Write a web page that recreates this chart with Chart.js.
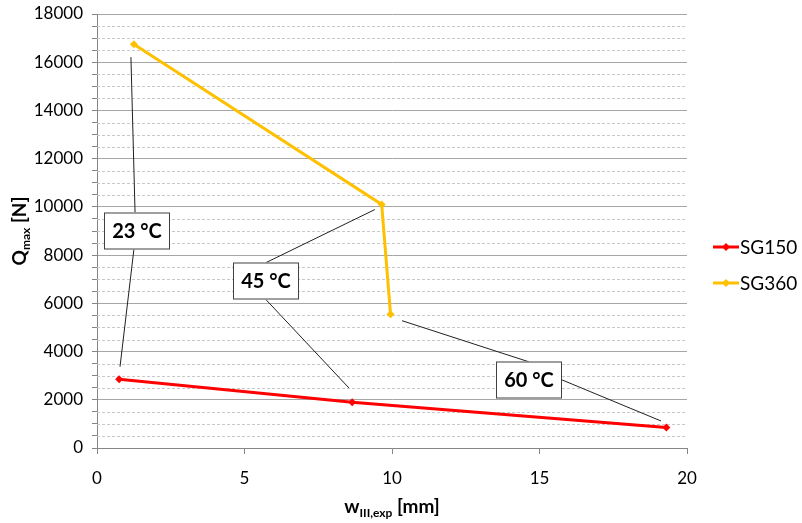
<!DOCTYPE html>
<html>
<head>
<meta charset="utf-8">
<script src="https://cdn.jsdelivr.net/npm/chart.js@4.4.0/dist/chart.umd.min.js"></script>
<style>
  html, body { margin: 0; padding: 0; background: #fff; }
</style>
</head>
<body>
<canvas id="chart" width="802" height="523"></canvas>
<script>
// data
const sg150X = [0.75, 8.65, 19.3];
const sg150Y = [2850, 1900, 850];
const sg360X = [1.25, 9.65, 9.95];
const sg360Y = [16750, 10100, 5550];
const seriesNames = ["SG150", "SG360"];
const seriesColors = ["#ff0000", "#ffc000"];
const xTickValues = [0, 5, 10, 15, 20];
const yMax = 18000, yMajorStep = 2000, yMinorStep = 500;

// temperature callouts (data coords) and their leader lines
const tempLabels = ["23 °C", "45 °C", "60 °C"];
const tempX = [1.34, 5.73, 14.64];
const tempY = [9000, 6920, 2826];
const leaders = [
  [1.29, 9770, 1.15, 16210],
  [1.25, 8230, 0.78, 3370],
  [5.73, 7690, 9.42, 9890],
  [5.73, 6150, 8.54, 2490],
  [14.64, 3574, 10.34, 5280],
  [15.76, 2826, 19.12, 1120],
];

const FONT = "Lato, 'Open Sans', sans-serif";
Chart.defaults.font.family = FONT;
Chart.defaults.color = "#000";

const toPoints = (xs, ys) => xs.map((x, i) => ({ x: x, y: ys[i] }));

const extras = {
  id: "extras",
  beforeDatasetsDraw(chart) {
    // dashed minor gridlines
    const { ctx, chartArea: a, scales: { y } } = chart;
    ctx.save();
    ctx.strokeStyle = "#c8c8c8";
    ctx.lineWidth = 1;
    ctx.setLineDash([3, 2]);
    y.ticks.forEach((t) => {
      if (t.value % yMajorStep === 0) return;
      const py = Math.round(y.getPixelForValue(t.value)) + 0.5;
      ctx.beginPath();
      ctx.moveTo(a.left, py);
      ctx.lineTo(a.right, py);
      ctx.stroke();
    });
    ctx.restore();
  },
  afterDatasetsDraw(chart) {
    const { ctx, scales: { x, y } } = chart;
    ctx.save();
    // leader lines
    ctx.strokeStyle = "#202020";
    ctx.lineWidth = 1;
    leaders.forEach((l) => {
      ctx.beginPath();
      ctx.moveTo(x.getPixelForValue(l[0]), y.getPixelForValue(l[1]));
      ctx.lineTo(x.getPixelForValue(l[2]), y.getPixelForValue(l[3]));
      ctx.stroke();
    });
    // label boxes
    const w = 66, h = 37;
    ctx.font = "bold 20px " + FONT;
    ctx.textAlign = "center";
    ctx.textBaseline = "middle";
    tempLabels.forEach((t, i) => {
      const cx = Math.round(x.getPixelForValue(tempX[i]));
      const cy = Math.round(y.getPixelForValue(tempY[i]));
      ctx.fillStyle = "#fff";
      ctx.fillRect(cx - w / 2, cy - h / 2, w, h);
      ctx.strokeStyle = "#404040";
      ctx.strokeRect(cx - w / 2 + 0.5, cy - h / 2 + 0.5, w - 1, h - 1);
      ctx.fillStyle = "#000";
      ctx.fillText(t, cx, cy + 1);
    });
    ctx.restore();
  },
  afterDraw(chart) {
    const { ctx, chartArea: a } = chart;
    const big = "bold 19px " + FONT, small = "bold 12px " + FONT;
    ctx.save();
    ctx.fillStyle = "#000";
    ctx.textBaseline = "alphabetic";
    // y title: Q_max [N]
    ctx.translate(26, (a.top + a.bottom) / 2);
    ctx.rotate(-Math.PI / 2);
    ctx.font = big; const wQ = ctx.measureText("Q").width;
    ctx.font = small; const wSub = ctx.measureText("max").width;
    ctx.font = big; const wRest = ctx.measureText(" [N]").width;
    let sx = -(wQ + wSub + wRest) / 2;
    ctx.font = big; ctx.fillText("Q", sx, 0); sx += wQ;
    ctx.font = small; ctx.fillText("max", sx, 4); sx += wSub;
    ctx.font = big; ctx.fillText(" [N]", sx, 0);
    ctx.restore();

    // x title: w_III,exp [mm]
    ctx.save();
    ctx.fillStyle = "#000";
    ctx.font = big; const ww = ctx.measureText("w").width;
    ctx.font = small; const wS2 = ctx.measureText("III,exp").width;
    ctx.font = big; const wR2 = ctx.measureText(" [mm]").width;
    let tx = (a.left + a.right) / 2 - (ww + wS2 + wR2) / 2;
    const by = 513;
    ctx.font = big; ctx.fillText("w", tx, by); tx += ww;
    ctx.font = small; ctx.fillText("III,exp", tx, by + 4); tx += wS2;
    ctx.font = big; ctx.fillText(" [mm]", tx, by);
    ctx.restore();

    // legend
    ctx.save();
    ctx.font = "19px " + FONT;
    ctx.textBaseline = "middle";
    chart.data.datasets.forEach((ds, i) => {
      const ly = 247 + i * 36;
      ctx.strokeStyle = ds.borderColor;
      ctx.lineWidth = 3;
      ctx.beginPath();
      ctx.moveTo(713, ly);
      ctx.lineTo(739, ly);
      ctx.stroke();
      ctx.fillStyle = ds.borderColor;
      ctx.beginPath();
      ctx.moveTo(726, ly - 4); ctx.lineTo(730, ly); ctx.lineTo(726, ly + 4); ctx.lineTo(722, ly);
      ctx.closePath(); ctx.fill();
      ctx.fillStyle = "#000";
      ctx.fillText(ds.label, 740, ly + 1);
    });
    ctx.restore();
  },
};

new Chart(document.getElementById("chart"), {
  type: "scatter",
  data: {
    datasets: [
      { label: seriesNames[0], data: toPoints(sg150X, sg150Y) },
      { label: seriesNames[1], data: toPoints(sg360X, sg360Y) },
    ].map((d, i) => Object.assign(d, {
      showLine: true,
      borderColor: seriesColors[i],
      backgroundColor: seriesColors[i],
      borderWidth: 3,
      pointStyle: "rectRot",
      pointRadius: 4,
      pointBorderWidth: 0,
      tension: 0,
    })),
  },
  options: {
    responsive: false,
    animation: false,
    devicePixelRatio: 1,
    layout: { padding: { left: 0, right: 115, top: 14, bottom: 0 } },
    plugins: { legend: { display: false }, tooltip: { enabled: false } },
    scales: {
      x: {
        type: "linear",
        min: 0, max: 20,
        afterBuildTicks: (s) => { s.ticks = xTickValues.map((v) => ({ value: v })); },
        afterFit: (s) => { s.height = 75; },
        grid: { drawOnChartArea: false, tickLength: 6, tickColor: "#868686" },
        border: { color: "#868686", width: 1 },
        ticks: { font: { size: 17 }, padding: 14, color: "#000" },
      },
      y: {
        min: 0, max: yMax,
        afterFit: (s) => { s.width = 97; s.paddingTop = 0; s.paddingBottom = 0; },
        grid: {
          color: (c) => (c.tick && c.tick.value % yMajorStep === 0 ? "#a6a6a6" : "rgba(0,0,0,0)"),
          tickColor: "#868686",
          tickLength: 5,
        },
        border: { color: "#868686", width: 1 },
        ticks: {
          stepSize: yMinorStep,
          autoSkip: false,
          font: { size: 17 },
          padding: 9,
          color: "#000",
          callback: (v) => (v % yMajorStep === 0 ? String(v) : ""),
        },
      },
    },
  },
  plugins: [extras],
});
</script>
</body>
</html>
